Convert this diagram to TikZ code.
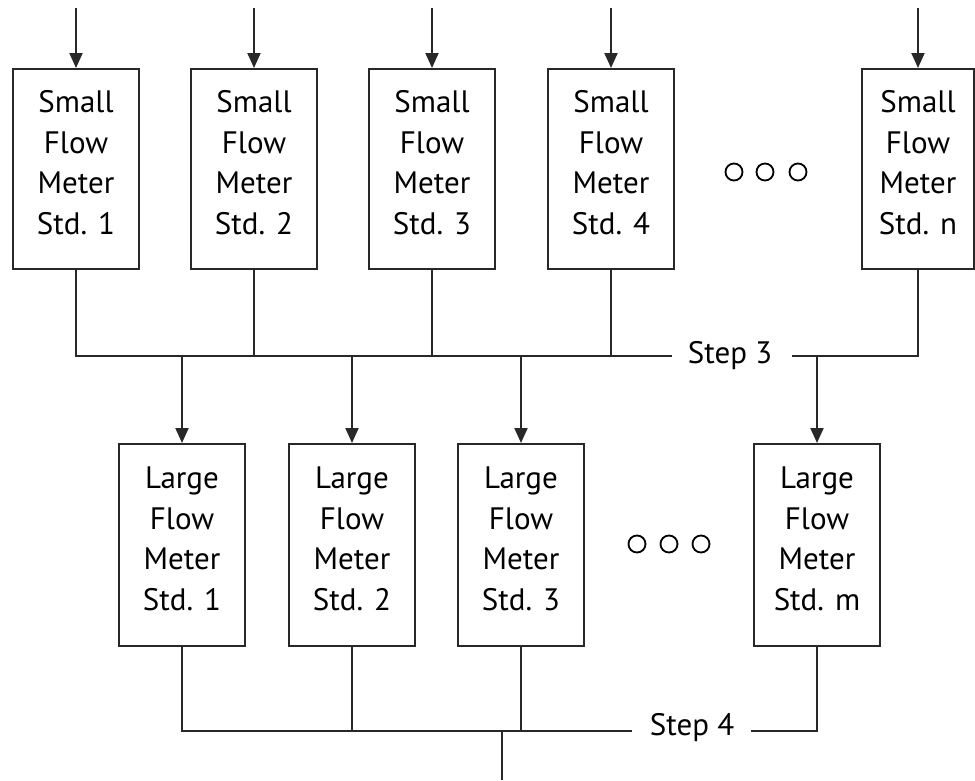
\documentclass[tikz,border=0pt]{standalone}
\usepackage{fontspec}
\setmainfont{PT Sans}
\usetikzlibrary{arrows.meta}
\definecolor{lc}{RGB}{40,40,40}
\begin{document}
\begin{tikzpicture}[x=1pt,y=-1pt,
  ln/.style={line width=2pt, draw=lc},
  arr/.style={line width=2pt, draw=lc, -{Triangle[length=15pt,width=13pt]}},
  meter/.style={draw=lc, line width=2pt, minimum width=126pt, minimum height=200pt,
    inner sep=0pt, align=center, font=\fontsize{31}{40.5}\selectfont, text=black},
  lbl/.style={font=\fontsize{31}{37}\selectfont, inner sep=0pt, anchor=base, text=black},
  dot/.style={line width=1.8pt, draw=black}]
\useasboundingbox (0,0) rectangle (975,780);
\newcommand{\mydepth}{\rule[-13pt]{0pt}{13pt}}
% small meters
\node[meter] (s1) at (76,169)  {Small\\Flow\\Meter\\Std. 1\mydepth};
\node[meter] (s2) at (254,169) {Small\\Flow\\Meter\\Std. 2\mydepth};
\node[meter] (s3) at (432,169) {Small\\Flow\\Meter\\Std. 3\mydepth};
\node[meter] (s4) at (611,169) {Small\\Flow\\Meter\\Std. 4\mydepth};
\node[meter, minimum width=112pt] (sn) at (918,169) {Small\\Flow\\Meter\\Std. n\mydepth};
% inputs
\foreach \n in {s1,s2,s3,s4,sn}{
  \coordinate (\n in) at (\n.north |- 0,8);
  \draw[arr] (\n in) -- (\n.north);
}
% dots
\foreach \x in {734,765,798} \draw[dot] (\x,172) circle (8.5);
% step 3 bus
\coordinate (b3l) at (672,356);
\coordinate (b3r) at (792,356);
\node[lbl] (st3) at (730,363) {Step 3};
\draw[ln] (s1.south) |- (b3l);
\foreach \n in {s2,s3,s4} \draw[ln] (\n.south) -- (\n.south |- b3l);
\draw[ln] (b3r) -| (sn.south);
% large meters
\node[meter, minimum height=202pt] (l1) at (182,545) {Large\\Flow\\Meter\\Std. 1\mydepth};
\node[meter, minimum height=202pt] (l2) at (352,545) {Large\\Flow\\Meter\\Std. 2\mydepth};
\node[meter, minimum height=202pt] (l3) at (521,545) {Large\\Flow\\Meter\\Std. 3\mydepth};
\node[meter, minimum height=202pt] (lm) at (817,545) {Large\\Flow\\Meter\\Std. m\mydepth};
\foreach \n in {l1,l2,l3} \draw[arr] (\n.north |- b3l) -- (\n.north);
\draw[arr] (lm.north |- b3r) -- (lm.north);
\foreach \x in {637,669,701} \draw[dot] (\x,544) circle (8.5);
% step 4 bus
\coordinate (b4l) at (632,731);
\coordinate (b4r) at (751,731);
\node[lbl] (st4) at (692,735) {Step 4};
\draw[ln] (l1.south) |- (b4l);
\foreach \n in {l2,l3} \draw[ln] (\n.south) -- (\n.south |- b4l);
\draw[ln] (b4r) -| (lm.south);
\coordinate (out) at (502,780);
\draw[ln] (out |- b4l) -- (out);
\end{tikzpicture}
\end{document}
